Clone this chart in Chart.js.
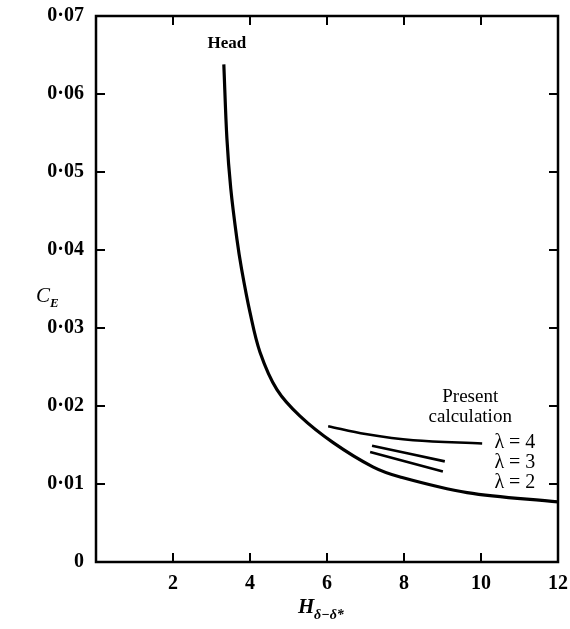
<!DOCTYPE html>
<html>
<head>
<meta charset="utf-8">
<script src="https://cdn.jsdelivr.net/npm/chart.js@4"></script>
<style>
  body { margin: 0; background: #fff; }
  #wrap { width: 570px; height: 629px; }
</style>
</head>
<body>
<div id="wrap"><canvas id="ceChart" width="570" height="629"></canvas></div>
<script>
// main curve (Head)
const headX = [3.32, 3.40, 3.50, 3.66, 3.78, 4.0, 4.26, 4.70, 5.30, 6.16, 7.19, 7.90, 9.64, 12.0];
const headY = [0.0638, 0.0543, 0.0479, 0.0414, 0.0376, 0.0320, 0.0269, 0.0221, 0.0187, 0.0153, 0.0122, 0.0109, 0.0089, 0.0077];

// present calculation curves
const lam4X = [6.03, 7.0, 8.24, 10.03];
const lam4Y = [0.0174, 0.0164, 0.0156, 0.0152];
const lam3X = [7.17, 9.06];
const lam3Y = [0.0149, 0.0129];
const lam2X = [7.12, 9.01];
const lam2Y = [0.0141, 0.0116];

const xTicks = [0, 2, 4, 6, 8, 10, 12];
const yTicks = [0, 0.01, 0.02, 0.03, 0.04, 0.05, 0.06, 0.07];

const SERIF = '"Liberation Serif", "DejaVu Serif", serif';

function pts(xs, ys) {
  return xs.map((x, i) => ({ x: x, y: ys[i] }));
}

function curve(xs, ys, w) {
  return {
    data: pts(xs, ys),
    showLine: true,
    borderColor: '#000',
    borderWidth: w,
    pointRadius: 0,
    tension: 0.35,
    fill: false
  };
}

// inward ticks on all four sides + text labels
const decor = {
  id: 'decor',
  afterDraw(chart) {
    const ctx = chart.ctx;
    const xs = chart.scales.x, ys = chart.scales.y;
    const a = chart.chartArea;
    ctx.save();
    ctx.strokeStyle = '#000';
    ctx.lineWidth = 2.5;
    ctx.strokeRect(a.left, a.top, a.right - a.left, a.bottom - a.top);
    ctx.lineWidth = 2;
    ctx.beginPath();
    xTicks.slice(1, -1).forEach(v => {
      const px = xs.getPixelForValue(v);
      ctx.moveTo(px, a.bottom); ctx.lineTo(px, a.bottom - 9);
      ctx.moveTo(px, a.top); ctx.lineTo(px, a.top + 9);
    });
    yTicks.slice(1, -1).forEach(v => {
      const py = ys.getPixelForValue(v);
      ctx.moveTo(a.left, py); ctx.lineTo(a.left + 9, py);
      ctx.moveTo(a.right, py); ctx.lineTo(a.right - 9, py);
    });
    ctx.stroke();

    ctx.fillStyle = '#000';
    ctx.textAlign = 'center';
    ctx.textBaseline = 'middle';
    ctx.font = 'bold 17px ' + SERIF;
    ctx.fillText('Head', xs.getPixelForValue(3.4), ys.getPixelForValue(0.0665));
    ctx.font = '19px ' + SERIF;
    ctx.fillText('Present', xs.getPixelForValue(9.72), ys.getPixelForValue(0.0212));
    ctx.fillText('calculation', xs.getPixelForValue(9.72), ys.getPixelForValue(0.0186));
    ctx.font = '20px ' + SERIF;
    ctx.fillText('\u03bb = 4', xs.getPixelForValue(10.88), ys.getPixelForValue(0.0153));
    ctx.fillText('\u03bb = 3', xs.getPixelForValue(10.88), ys.getPixelForValue(0.0127));
    ctx.fillText('\u03bb = 2', xs.getPixelForValue(10.88), ys.getPixelForValue(0.0102));

    // axis titles
    ctx.textAlign = 'left';
    ctx.textBaseline = 'alphabetic';
    ctx.font = 'italic 21px ' + SERIF;
    ctx.fillText('C', 36, 302);
    ctx.font = 'bold italic 13px ' + SERIF;
    ctx.fillText('E', 50, 307);

    ctx.font = 'bold italic 21px ' + SERIF;
    ctx.fillText('H', 298, 613);
    ctx.font = 'bold italic 14px ' + SERIF;
    ctx.fillText('\u03b4\u2212\u03b4*', 314, 619);
    ctx.restore();
  }
};

new Chart(document.getElementById('ceChart'), {
  type: 'scatter',
  data: {
    datasets: [
      curve(headX, headY, 3.2),
      curve(lam4X, lam4Y, 2.6),
      curve(lam3X, lam3Y, 2.6),
      curve(lam2X, lam2Y, 2.6)
    ]
  },
  options: {
    responsive: false,
    animation: false,
    layout: { padding: { top: 16, right: 3, left: 0, bottom: 0 } },
    plugins: { legend: { display: false }, tooltip: { enabled: false } },
    scales: {
      x: {
        type: 'linear',
        min: 0, max: 12,
        afterBuildTicks: s => { s.ticks = xTicks.map(v => ({ value: v })); },
        afterFit: s => { s.height = 67; },
        grid: { display: false },
        border: { display: false },
        ticks: {
          color: '#000',
          font: { family: SERIF, size: 20, weight: 'bold' },
          padding: 2,
          callback: v => v === 0 ? '' : String(v)
        }
      },
      y: {
        type: 'linear',
        min: 0, max: 0.07,
        afterBuildTicks: s => { s.ticks = yTicks.map(v => ({ value: v })); },
        afterFit: s => { s.width = 96; },
        grid: { display: false },
        border: { display: false },
        ticks: {
          color: '#000',
          font: { family: SERIF, size: 20, weight: 'bold' },
          padding: 4,
          callback: v => v === 0 ? '0' : v.toFixed(2).replace('.', '\u00b7')
        }
      }
    }
  },
  plugins: [decor]
});
</script>
</body>
</html>
